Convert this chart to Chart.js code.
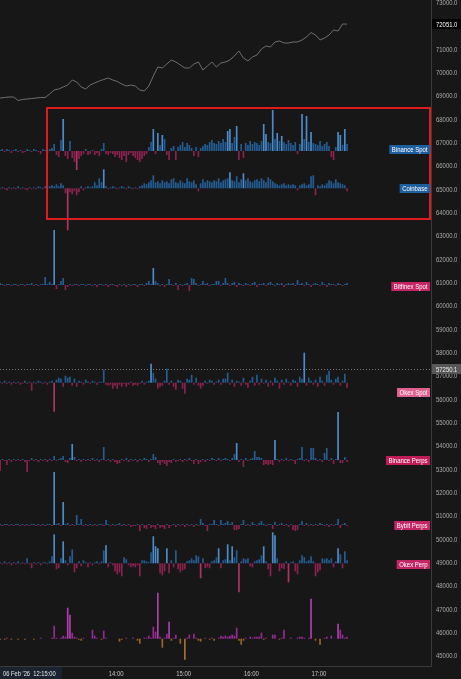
<!DOCTYPE html>
<html><head><meta charset="utf-8">
<script src="https://cdn.jsdelivr.net/npm/chart.js@4.4.1/dist/chart.umd.min.js"></script>
<style>html,body{margin:0;padding:0;background:#171717;overflow:hidden}canvas{display:block}</style>
</head><body><canvas id="c" width="461" height="679"></canvas>
<script>
// ---- time axis (minutes after 12:00, 06 Feb 2026) ----
const barStartMin = 17, barStepMin = 2;      // one delta bar per 2 minutes
const priceStartMin = 17, priceStepMin = 4;  // one price sample per 4 minutes
const xTickMinutes = [120, 180, 240, 300];
const xTickLabels = ['14:00', '15:00', '16:00', '17:00'];
const dateLabel = "06 Feb '26  12:15:00";
const yTickValues = [45000,46000,47000,48000,49000,50000,51000,52000,53000,54000,55000,56000,57000,
  58000,59000,60000,61000,62000,63000,64000,65000,66000,67000,68000,69000,70000,71000,72000,73000];

// ---- BTC price (grey line, on the price axis) ----
const btcPrice = [
68884,68905,68927,68927,68777,68820,68841,68863,68884,68905,
68905,69055,69227,69270,69355,69441,69655,69570,69355,69270,
69441,69527,69613,69677,69741,69655,69591,69484,69398,69441,
69398,69227,69184,69398,69827,70213,70170,70341,70513,70427,
70298,70170,70170,70341,70427,70084,70255,70427,70213,70384,
70427,70513,70684,70898,70598,70470,70641,70727,70984,71113,
71070,71284,71327,71241,71241,71284,71284,71370,71498,71691,
71584,71370,71455,71584,71798,71755,72055,72051];
const lastPrice = 72051.0;
const markPrice = 57250.1;

// ---- delta bars per venue (signed, arbitrary units) ----
const binanceSpot = [
1,2,-1,2,1,-2,1,2,-1,1, -2,-1,2,1,-1,2,1,-1,-3,2, 1,-3,2,3,7,-4,-6,11,32,-5,
-8,10,-7,-11,-19,-8,-5,-3,2,-4, -3,1,-4,-2,-5,2,8,-3,-4,-2, -3,-6,-4,-7,-9,-5,-11,-4,-2,-5,
-7,-9,-11,-8,-5,-3,4,9,22,-3, 18,6,16,12,-4,-9,3,5,-9,4, 6,9,4,8,6,3,-5,4,-6,3,
5,7,6,9,11,8,7,10,8,12, 9,20,22,8,14,25,-9,7,-7,8, 6,10,7,9,8,6,10,27,17,9,
8,41,12,18,10,15,9,7,11,8, 6,9,-3,7,37,12,35,9,19,8, 7,6,10,5,7,9,5,-6,-9,4,
19,16,6,22,7];
const coinbase = [
-1,1,-1,-2,1,-1,1,-1,2,-1, 1,-1,-2,1,-1,1,-1,2,1,-1, 2,1,2,3,2,4,2,5,3,-5,
-42,-4,-6,-3,-7,-4,2,-2,1,2, 1,2,6,3,10,6,19,2,-1,1, 2,1,-1,1,2,1,-1,2,1,-1,
1,-1,2,3,5,4,6,8,13,6, 7,5,8,6,7,5,9,10,6,5, 8,6,5,10,7,6,8,4,-3,5,
9,6,8,7,6,8,7,10,6,8, 9,10,16,8,7,12,6,9,15,8, 10,7,6,8,9,7,10,8,6,11,
9,7,5,4,3,4,5,3,4,3, 4,3,-2,3,4,5,3,4,12,13, -7,3,2,4,3,5,8,7,5,9,
6,5,4,3,-3];
const bitfinexSpot = [
2,1,-1,1,1,-1,1,1,-1,1, 1,-1,1,1,2,-1,1,-1,1,1, 8,1,3,1,55,-4,1,4,7,-5,
-2,1,-1,1,1,-1,1,1,-1,1, 1,-1,1,-2,1,1,-1,1,-2,1, 1,-1,-2,1,-1,1,-2,1,-1,1,
1,-2,1,1,-1,2,4,1,17,4, 2,-1,1,-2,1,6,1,-1,2,-5, 1,-1,1,2,-6,7,6,2,-1,1,
4,1,2,-1,1,1,4,4,-1,2, 7,2,-1,2,3,-2,2,1,-1,2, 1,-1,2,3,-2,1,1,2,-1,2,
3,1,-1,2,1,2,-2,1,2,1, 2,-1,5,1,2,-1,3,1,-2,1, 2,1,-1,3,1,-2,2,1,1,-1,
2,1,-1,1,2];
const okexSpot = [
1,-1,2,-1,1,-2,1,-1,1,-2, -1,2,-1,1,-8,1,-1,2,1,-1, 1,-2,1,2,-29,3,5,4,-4,7,
5,6,-3,4,-4,2,1,-2,3,1, -1,2,1,-2,1,1,13,-2,-3,-2, -6,-3,-6,-2,-4,-1,-4,-2,1,-3,
-2,-3,-1,2,-2,1,2,19,10,4, -6,-4,-3,2,14,-2,2,-4,-7,3, 2,-6,-11,4,3,8,-2,5,-3,-6,
-3,2,-1,3,2,-2,1,3,-2,4, 4,10,-2,3,-4,2,1,-3,5,-2, -5,2,6,-3,8,-2,4,-1,3,-4,
2,-3,5,2,-6,3,-2,4,1,-3, 3,2,-4,6,4,30,-3,5,2,-2, 3,-4,6,2,-3,8,12,3,-2,4,
6,-3,2,9,-5];
const binancePerps = [
-11,1,-1,-5,1,-2,1,-1,1,-1, 1,-2,-12,-1,2,-1,1,-2,1,-1, 1,-2,1,-1,4,-1,1,2,4,-2,
-3,2,16,3,-1,1,-2,1,-1,1, -1,2,-1,1,-2,1,13,-1,1,-2, 1,-2,-4,-3,1,-1,2,-2,1,-1,
1,-2,1,-1,2,1,-2,1,6,3, -3,-5,-2,-4,-6,-2,-3,1,-2,-1, 1,-2,1,-1,2,-1,-4,1,-4,-2,
1,-2,1,-1,2,1,-1,2,-1,1, 2,1,-1,2,6,17,-2,1,-7,2, -1,1,2,9,3,3,2,-5,-4,-5,
-4,-5,20,1,-2,1,-1,2,-1,1, -1,-4,1,2,13,-1,1,-2,12,12, 2,-1,1,-2,7,12,-1,2,-4,1,
48,-3,-3,3,-2];
const bybitPerps = [
1,-1,1,1,-1,1,-1,1,1,-1, 1,-1,1,-1,1,1,-1,1,-1,1, -1,1,1,-1,53,1,2,-1,23,1,
2,-1,1,-1,10,1,6,-1,1,-1, 1,-1,1,-1,1,1,-1,5,1,-1, 1,-1,1,2,-1,1,-1,1,-2,-1,
-1,1,-6,1,-3,-4,1,-3,-2,-4, 1,-3,-2,-4,1,-3,-1,1,-2,1, -1,1,-2,1,-1,1,-2,1,-1,6,
2,-1,-6,1,1,5,1,-1,5,1, 2,4,1,3,-5,-5,-4,1,5,-1, 1,-1,3,1,-1,2,4,1,-1,1,
1,-4,3,-1,1,2,-1,1,-2,1, -5,-6,-5,1,4,-1,2,-1,1,-1, 1,-1,2,1,-1,1,-2,1,-1,1,
6,-3,1,2,-1];
const okexPerp = [
1,-1,2,-1,1,-2,1,-1,2,-1, 1,-1,5,-1,-5,1,-1,1,-2,1, 1,-1,2,7,29,-6,-5,5,22,3,
-2,7,14,-9,-5,2,-3,3,1,-4, 1,-2,1,2,-1,2,13,18,-4,1, -2,-8,-11,-9,-13,6,4,-2,-4,-3,
-4,-2,-13,3,3,2,1,11,27,17, 15,-10,-12,-8,15,-10,3,-4,13,-6, -9,-7,-6,2,3,5,3,8,7,-15,
5,-5,-4,-5,2,3,6,15,-5,3, 4,19,3,17,6,13,-29,2,5,4, 5,-3,-4,2,3,4,8,17,2,-6,
-13,31,28,5,-8,-5,-6,2,-19,1, 2,-8,-11,3,8,6,2,3,7,2, -13,-9,-7,5,4,5,3,5,-4,2,
15,9,-5,12,3];
const lowerPane = [
-1,0,-1,1,0,-1,0,0,-1,0, 0,-1,0,0,0,-1,0,0,1,0, 0,0,0,1,13,1,0,1,3,2,
31,24,6,2,1,-1,-2,1,0,0, 0,9,3,1,0,-1,8,1,0,0, 0,0,0,-3,-1,0,1,0,0,1,
0,-2,-5,0,1,1,3,1,12,7, 46,2,-9,1,5,17,-2,1,4,0, -5,0,-21,1,4,0,5,1,-2,-3,
0,1,0,-1,1,-2,0,1,3,2, 3,2,3,4,3,11,-2,-6,-2,1, 0,2,1,2,2,2,6,-1,1,0,
0,4,4,0,-1,1,9,0,0,1, 0,0,1,2,2,1,0,1,40,0, -2,0,-6,0,1,2,0,3,0,0,
15,9,4,1,2];

// ---- presentation ----
const deltaToPrice = 42.86; // price-axis units per delta unit
const BLUE = {up:'#245c92', upHi:'#4b8bc9', dn:'#8c2150', dnHi:'#b03366'};
const PURPLE = {up:'#952a95', upHi:'#b03cb0', dn:'#9a6428', dnHi:'#a8702c'};
const series = [
  {name:'Binance Spot',  values:binanceSpot,  base:66613, tagAt:66686, tag:'#1e5fa0', c:BLUE},
  {name:'Coinbase',      values:coinbase,     base:65014, tagAt:65014, tag:'#1e5fa0', c:BLUE},
  {name:'Bitfinex Spot', values:bitfinexSpot, base:60870, tagAt:60840, tag:'#c42665', c:BLUE},
  {name:'Okex Spot',     values:okexSpot,     base:56683, tagAt:56297, tag:'#e0608e', c:BLUE},
  {name:'Binance Perps', values:binancePerps, base:53370, tagAt:53370, tag:'#c01c58', c:BLUE},
  {name:'Bybit Perps',   values:bybitPerps,   base:50584, tagAt:50584, tag:'#c42665', c:BLUE},
  {name:'Okex Perp',     values:okexPerp,     base:48943, tagAt:48900, tag:'#c42665', c:BLUE},
  {name:'',              values:lowerPane,    base:45711, tagAt:null,  tag:null,      c:PURPLE}
];
const highlightBox = {fromMin:58.6, top:68455, bottom:63700};
const FONT = '"Liberation Sans Narrow","Liberation Sans",Arial,sans-serif';

const datasets = series.map(s => ({
  type:'bar',
  data: s.values.map((v,i) => ({x: barStartMin + barStepMin*i, y:[s.base, s.base + v*deltaToPrice]})),
  backgroundColor: ctx => {
    const v = s.values[ctx.dataIndex] || 0;
    if (v >= 0) return v >= 15 ? s.c.upHi : s.c.up;
    return v <= -15 ? s.c.dnHi : s.c.dn;
  },
  borderWidth:0, grouped:false, categoryPercentage:1, barPercentage:0.75
}));
datasets.push({
  type:'line',
  data: btcPrice.map((p,i) => ({x: priceStartMin + priceStepMin*i, y:p})),
  borderColor:'#6f6f6f', borderWidth:1, pointRadius:0, tension:0
});

// condensed text: real canvas text squeezed horizontally
function ctext(ctx, text, x, y, sx, align) {
  const w = ctx.measureText(text).width * sx;
  let left = x;
  if (align === 'center') left = x - w/2; else if (align === 'right') left = x - w;
  ctx.save();
  ctx.translate(left, y); ctx.scale(sx, 1);
  ctx.textAlign = 'left'; ctx.textBaseline = 'middle';
  ctx.fillText(text, 0, 0);
  ctx.restore();
  return w;
}

const overlay = {
  id:'overlay',
  afterDraw(chart){
    const {ctx, chartArea:a, scales:{x, y}} = chart;
    ctx.save();
    // y tick labels
    ctx.font = '8px ' + FONT; ctx.fillStyle = '#a9a9a9';
    y.ticks.forEach(t => ctext(ctx, t.value.toFixed(1), a.right + 5, Math.round(y.getPixelForValue(t.value)) + 0.5, 0.74, 'left'));
    // x tick labels
    ctx.fillStyle = '#c4c4c4';
    x.ticks.forEach(t => ctext(ctx, xTickLabels[xTickMinutes.indexOf(t.value)], x.getPixelForValue(t.value), a.bottom + 8, 0.74, 'center'));
    // mark price dotted line
    const ym = Math.round(y.getPixelForValue(markPrice)) + 0.5;
    ctx.strokeStyle = '#7a7a7a'; ctx.lineWidth = 1; ctx.setLineDash([1,2]);
    ctx.beginPath(); ctx.moveTo(a.left, ym); ctx.lineTo(a.right, ym); ctx.stroke();
    ctx.setLineDash([]);
    // highlight box
    const bx = x.getPixelForValue(highlightBox.fromMin);
    const bt = y.getPixelForValue(highlightBox.top), bb = y.getPixelForValue(highlightBox.bottom);
    ctx.strokeStyle = '#e01b1b'; ctx.lineWidth = 2;
    ctx.strokeRect(Math.round(bx), Math.round(bt), a.right - 1 - Math.round(bx), Math.round(bb - bt));
    // venue tags
    ctx.font = '7.5px ' + FONT;
    series.forEach(s => {
      if (!s.tag) return;
      const yc = Math.round(y.getPixelForValue(s.tagAt));
      const w = ctx.measureText(s.name).width * 0.8 + 5;
      ctx.fillStyle = s.tag; ctx.fillRect(a.right - 1 - w, yc - 4, w, 9);
      ctx.fillStyle = '#ffffff'; ctx.font = '7.5px ' + FONT;
      ctext(ctx, s.name, a.right - 1 - w + 2.5, yc + 0.5, 0.8, 'left');
    });
    // price labels on axis
    ctx.font = '8px ' + FONT;
    const yl = Math.round(y.getPixelForValue(lastPrice));
    ctx.fillStyle = '#000000'; ctx.fillRect(a.right + 1, yl - 5, 30, 10);
    ctx.fillStyle = '#ffffff'; ctext(ctx, lastPrice.toFixed(1), a.right + 5, yl + 0.5, 0.74, 'left');
    ctx.fillStyle = '#575757'; ctx.fillRect(a.right + 1, ym - 5.5, 29, 10);
    ctx.fillStyle = '#f0f0f0'; ctext(ctx, markPrice.toFixed(1), a.right + 5, ym, 0.74, 'left');
    // date label
    ctx.fillStyle = '#1b2331'; ctx.fillRect(0, a.bottom + 1, 62, chart.height - a.bottom - 1);
    ctx.fillStyle = '#e6e6e6';
    ctext(ctx, dateLabel, 3, a.bottom + 7.5, 0.72, 'left');
    ctx.restore();
  }
};

new Chart(document.getElementById('c'), {
  type:'bar',
  data:{datasets},
  options:{
    responsive:false, animation:false, devicePixelRatio:1,
    layout:{padding:0},
    plugins:{legend:{display:false}, tooltip:{enabled:false}},
    scales:{
      x:{type:'linear', position:'bottom', min:16.9, max:399.5, offset:false,
        grid:{display:false, drawTicks:false}, border:{display:true, color:'#3a3a3a'},
        afterBuildTicks: s => { s.ticks = xTickMinutes.map(v => ({value:v})); },
        afterFit: s => { s.height = 13; s.paddingLeft = 0; s.paddingRight = 0; },
        ticks:{display:false}
      },
      y:{type:'linear', position:'right', min:44541, max:73084,
        grid:{display:false, drawTicks:false}, border:{display:true, color:'#3a3a3a'},
        afterBuildTicks: s => { s.ticks = yTickValues.map(v => ({value:v})); },
        afterFit: s => { s.width = 30; s.paddingTop = 0; s.paddingBottom = 0; },
        ticks:{display:false}
      }
    }
  },
  plugins:[overlay]
});
</script>
</body></html>
